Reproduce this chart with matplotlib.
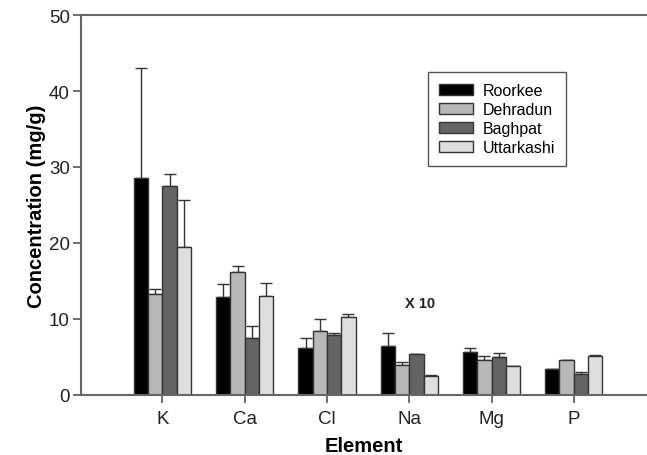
import numpy as np
import matplotlib
matplotlib.use("Agg")
import matplotlib.pyplot as plt

plt.rcParams['font.family'] = ['Liberation Sans', 'DejaVu Sans']

# data (Na shown x10)
elements = ['K', 'Ca', 'Cl', 'Na', 'Mg', 'P']
sites = ['Roorkee', 'Dehradun', 'Baghpat', 'Uttarkashi']

roorkee = [28.5, 12.9, 6.2, 6.5, 5.6, 3.45]
dehradun = [13.3, 16.2, 8.4, 4.0, 4.65, 4.65]
baghpat = [27.5, 7.45, 7.9, 5.35, 5.05, 2.7]
uttarkashi = [19.5, 13.0, 10.3, 2.55, 3.8, 5.1]

roorkee_err = [14.5, 1.7, 1.3, 1.6, 0.6, 0.0]
dehradun_err = [0.7, 0.8, 1.6, 0.4, 0.5, 0.0]
baghpat_err = [1.6, 1.6, 0.2, 0.1, 0.45, 0.3]
uttarkashi_err = [6.1, 1.8, 0.3, 0.1, 0.0, 0.1]

colors = ['#000000', '#b8b8b8', '#646464', '#dedede']

values = [roorkee, dehradun, baghpat, uttarkashi]
errors = [roorkee_err, dehradun_err, baghpat_err, uttarkashi_err]

fig = plt.figure(figsize=(6.47, 4.56), dpi=100)
ax = fig.add_axes([0.1252, 0.1316, 0.8748, 0.8333])

x = np.arange(len(elements))
w = 0.174
for k, (vals, errs, c, name) in enumerate(zip(values, errors, colors, sites)):
    pos = x + (k - 1.5) * w
    ax.bar(pos, vals, width=w, color=c, edgecolor='#333333', linewidth=1.0, label=name, zorder=2)
    lower = np.zeros(len(errs))
    ax.errorbar(pos, vals, yerr=[lower, errs], fmt='none', ecolor='#333333',
                elinewidth=1.0, capsize=4, capthick=1.0, zorder=1)

ax.text(3.13, 12.1, 'X 10', fontsize=10.5, fontweight='bold', ha='center', va='center', color='#222222')

ax.set_xlim(-0.99, 5.89)
ax.set_ylim(0, 50)
ax.set_yticks([0, 10, 20, 30, 40, 50])
ax.set_xticks(x)
ax.set_xticklabels(elements)
ax.tick_params(axis='both', labelsize=13.5, length=6, width=1.2, color='#555555', labelcolor='#222222')
ax.tick_params(axis='y', pad=2)
ax.tick_params(axis='x', pad=5)

ax.spines['right'].set_visible(False)
for s in ['left', 'top', 'bottom']:
    ax.spines[s].set_color('#666666')
    ax.spines[s].set_linewidth(1.5)

ax.set_xlabel('Element', fontsize=14.5, fontweight='bold', labelpad=6.5)
ax.set_ylabel('Concentration (mg/g)', fontsize=14.5, fontweight='bold', labelpad=2)

leg = ax.legend(loc='upper left', bbox_to_anchor=(0.613, 0.85), borderaxespad=0,
                fontsize=11.5, handlelength=2.1, handleheight=0.65, labelspacing=0.25,
                borderpad=0.7, handletextpad=0.6, fancybox=False, framealpha=1,
                edgecolor='#555555')
leg.get_frame().set_linewidth(1.0)

fig.savefig('out.png', dpi=100)
